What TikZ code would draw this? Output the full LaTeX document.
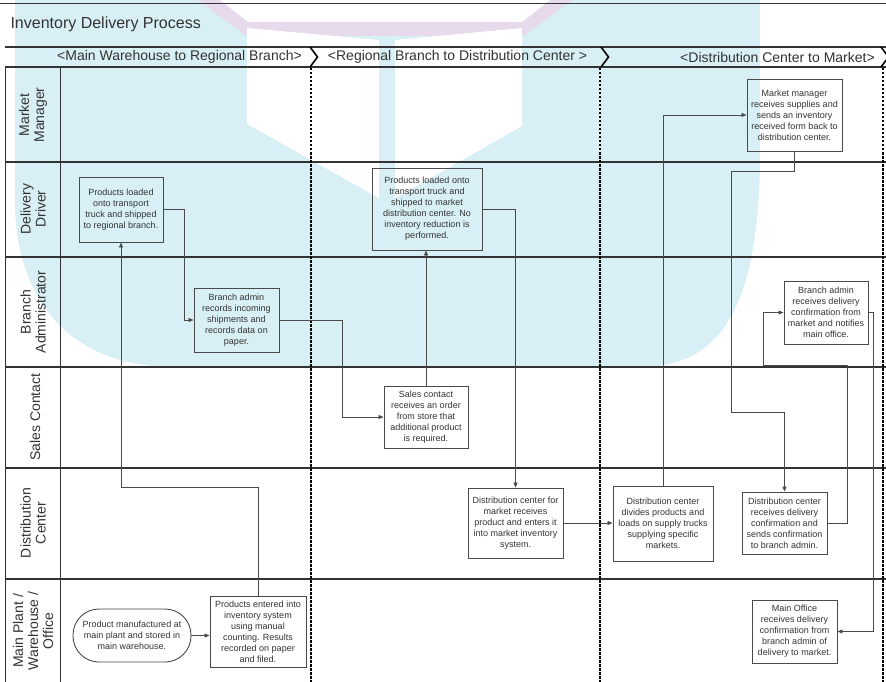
\documentclass[tikz,border=0pt]{standalone}
\usepackage{fontspec}
\setmainfont{Liberation Sans}
\usetikzlibrary{arrows.meta}
\definecolor{wmblue}{HTML}{D8EFF5}
\definecolor{wmlav}{HTML}{E6DAEC}
\definecolor{linec}{HTML}{333333}
\definecolor{boxc}{HTML}{4A4A4A}
\definecolor{txtc}{HTML}{333333}
\tikzset{
 procbox/.style={draw=boxc, line width=0.9pt, align=center, inner sep=1pt, font=\fontsize{9}{11}\selectfont, text=txtc},
 conn/.style={draw=boxc, line width=0.8pt, -{Triangle[length=5pt,width=4pt]}},
 lane/.style={draw=linec, line width=1.1pt},
 phase/.style={draw=black, line width=2pt, dash pattern=on 2.5pt off 1.5pt},
 lanelabel/.style={rotate=90, align=center, font=\fontsize{14}{15}\selectfont, text=txtc},
 hdr/.style={font=\fontsize{14}{16}\selectfont, text=txtc},
 chev/.style={draw=black, line width=1.6pt}
}
\begin{document}
\begin{tikzpicture}[x=1pt,y=-1pt]
\useasboundingbox (0,0) rectangle (886,682);
\fill[white] (0,0) rectangle (886,682);
% watermark
\fill[wmblue] (15,0) -- (760,0) -- (760,150) .. controls (760,300) and (725,367) .. (640,367) -- (175,367) .. controls (70,367) and (15,300) .. (15,200) -- cycle;
\fill[wmlav] (198,0) -- (572,0) -- (524,36) -- (246,36) -- cycle;
\fill[white] (220,0) -- (550,0) -- (522,22) -- (248,22) -- cycle;
\fill[white] (247,28) -- (379,40) -- (379,198) -- (247,124) -- cycle;
\fill[white] (395,40) -- (522,28) -- (522,126) -- (395,198) -- cycle;
% frame lines
\draw[draw=linec, line width=1pt] (0,4) -- (886,4);
\node[anchor=base west, font=\fontsize{16}{18}\selectfont, text=txtc] (title) at (7,29) {Inventory Delivery Process};
\draw[lane] (5,47) -- (886,47);
\draw[lane] (5,67) -- (886,67);
\foreach \yy in {162,257,367,468,579} { \draw[lane] (5,\yy) -- (886,\yy); }
\draw[lane] (5.5,67) -- (5.5,682);
\draw[lane] (60.5,67) -- (60.5,682);
\draw[phase] (311,68) -- (311,682);
\draw[phase] (600,68) -- (600,682);
\draw[phase] (883,68) -- (883,682);
\draw[chev] (310,47) -- (317.5,57) -- (310,67);
\draw[chev] (601,47) -- (608.5,57) -- (601,67);
\draw[chev] (881,47) -- (888.5,57) -- (881,67);
% header texts
\node[hdr] (h1) at (179.5,57) {<Main Warehouse to Regional Branch>};
\node[hdr] (h2) at (457.5,57) {<Regional Branch to Distribution Center >};
\node[hdr] (h3) at (777.5,57) {<Distribution Center to Market>};
% lane labels
\node[lanelabel] (l1) at (33,115) {Market\\Manager};
\node[lanelabel] (l2) at (33,209) {Delivery\\Driver};
\node[lanelabel] (l3) at (33,312) {Branch\\Administrator};
\node[lanelabel] (l4) at (35,417) {Sales Contact};
\node[lanelabel] (l5) at (33,523) {Distribution\\Center};
\node[lanelabel] (l6) at (33,631) {Main Plant /\\Warehouse /\\Office};
% boxes
\node[procbox, minimum width=84pt, minimum height=65pt] (dd1) at (121,209.5) {Products loaded\\onto transport\\truck and shipped\\to regional branch.};
\node[procbox, minimum width=85pt, minimum height=64pt] (ba1) at (236.5,320) {Branch admin\\records incoming\\shipments and\\records data on\\paper.};
\node[procbox, rounded corners=26pt, minimum width=118pt, minimum height=53pt] (st) at (132,635.5) {Product manufactured at\\main plant and stored in\\main warehouse.};
\node[procbox, minimum width=96pt, minimum height=71pt] (pe) at (258,631.5) {Products entered into\\inventory system\\using manual\\counting. Results\\recorded on paper\\and filed.};
\node[procbox, minimum width=84pt, minimum height=62pt] (sc) at (426,417) {Sales contact\\receives an order\\from store that\\additional product\\is required.};
\node[procbox, minimum width=110pt, minimum height=82pt] (dd2) at (427,209) {Products loaded onto\\transport truck and\\shipped to market\\distribution center. No\\inventory reduction is\\performed.};
\node[procbox, minimum width=95pt, minimum height=70pt] (dc1) at (515.5,523) {Distribution center for\\market receives\\product and enters it\\into market inventory\\system.};
\node[procbox, minimum width=100pt, minimum height=75pt] (dc2) at (663,523.5) {Distribution center\\divides products and\\loads on supply trucks\\supplying specific\\markets.};
\node[procbox, minimum width=95pt, minimum height=72pt] (mm) at (794.5,115) {Market manager\\receives supplies and\\sends an inventory\\received form back to\\distribution center.};
\node[procbox, minimum width=84pt, minimum height=63pt] (ba3) at (826,312.5) {Branch admin\\receives delivery\\confirmation from\\market and notifies\\main office.};
\node[procbox, minimum width=85pt, minimum height=62pt] (dc3) at (784.5,523) {Distribution center\\receives delivery\\confirmation and\\sends confirmation\\to branch admin.};
\node[procbox, minimum width=85pt, minimum height=63pt] (mo) at (794.5,631.5) {Main Office\\receives delivery\\confirmation from\\branch admin of\\delivery to market.};
% connectors
\draw[conn] (st.east) -- (st.east -| pe.west);
\draw[conn] (pe.north) -- ++(0,-108) -| (dd1.south);
\draw[conn] (dd1.east) -- ++(21,0) |- (ba1.west);
\draw[conn] (ba1.east) -- ++(63,0) |- (sc.west);
\draw[conn] (sc.north) -- (sc.north |- dd2.south);
\draw[conn] (dd2.east) -| (dc1.north);
\draw[conn] (dc1.east) -- (dc1.east -| dc2.west);
\draw[conn] (dc2.north) |- (mm.west);
\draw[conn] (mm.south) -- ++(0,20) -- ++(-63.5,0) -- ++(0,241) -| (dc3.north);
\draw[conn] (dc3.east) -- ++(20,0) -- ++(0,-158) -- ++(-84,0) |- (ba3.west);
\draw[conn] (ba3.east) -- ++(5,0) |- (mo.east);
\end{tikzpicture}
\end{document}
